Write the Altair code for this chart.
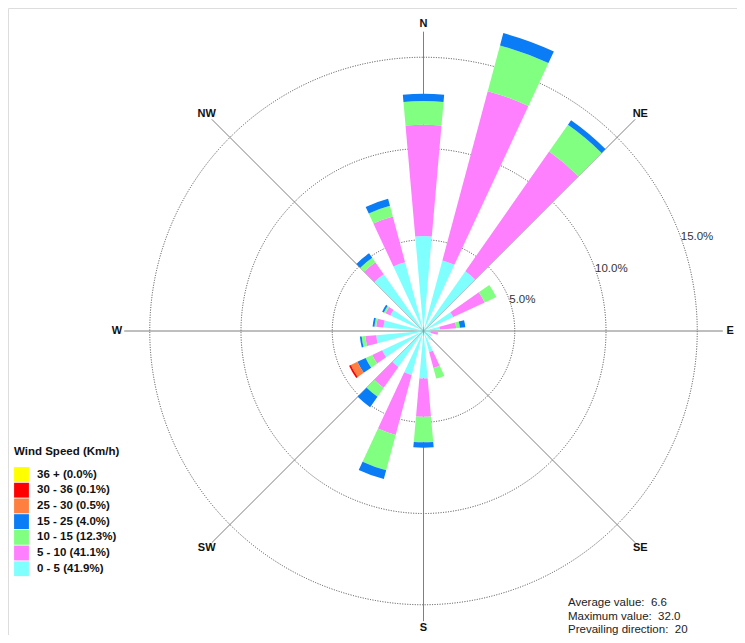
import math
import altair as alt
import pandas as pd

# ---------------- data ----------------
directions = list(range(0, 360, 20))
bands = ["0 - 5 (41.9%)", "5 - 10 (41.1%)", "10 - 15 (12.3%)", "15 - 25 (4.0%)",
         "25 - 30 (0.5%)", "30 - 36 (0.1%)", "36 + (0.0%)"]
band_colors = ["#80FFFF", "#FF80FF", "#80FF80", "#0A7CF5", "#FF7F40", "#FF0000", "#FFFF00"]

#            0    20   40   60   80  100  120  140  160  180  200  220  240  260  280  300  320  340
v_0_5   = [5.2, 4.0, 4.0, 1.8, 0.9, 0.4, 0.5, 0.6, 1.2, 2.6, 2.5, 2.4, 2.5, 2.6, 2.2, 2.0, 3.8, 3.9]
v_5_10  = [6.1, 9.6, 8.0, 1.9, 0.9, 0.4, 0.0, 0.0, 0.9, 2.1, 3.4, 1.4, 0.6, 0.6, 0.4, 0.3, 0.8, 2.6]
v_10_15 = [1.3, 2.6, 1.8, 0.7, 0.2, 0.0, 0.0, 0.0, 0.6, 1.4, 2.0, 0.6, 0.4, 0.2, 0.1, 0.1, 0.3, 0.6]
v_15_25 = [0.4, 0.7, 0.3, 0.0, 0.3, 0.0, 0.0, 0.0, 0.0, 0.3, 0.5, 0.7, 0.5, 0.1, 0.1, 0.1, 0.3, 0.4]
v_25_30 = [0.0, 0.0, 0.0, 0.0, 0.0, 0.0, 0.0, 0.0, 0.0, 0.0, 0.0, 0.0, 0.4, 0.0, 0.0, 0.0, 0.0, 0.0]
v_30_36 = [0.0, 0.0, 0.0, 0.0, 0.0, 0.0, 0.0, 0.0, 0.0, 0.0, 0.0, 0.0, 0.1, 0.0, 0.0, 0.0, 0.0, 0.0]
v_36p   = [0.0] * 18
series = [v_0_5, v_5_10, v_10_15, v_15_25, v_25_30, v_30_36, v_36p]

ring_values = [5, 10, 15]
ring_labels = ["5.0%", "10.0%", "15.0%"]
compass_names = ["N", "NE", "E", "SE", "S", "SW", "W", "NW"]
compass_angles = [0, 45, 90, 135, 180, 225, 270, 315]
compass_label_r = [16.8, 16.8, 16.8, 16.8, 16.25, 16.8, 16.8, 16.8]
compass_spoke_r = [16.4, 16.4, 16.4, 16.4, 15.9, 16.4, 16.4, 16.4]
NB = "\u00a0"
stats_lines = ["Average value:" + NB + " 6.6",
               "Maximum value:" + NB + " 32.0",
               "Prevailing direction:" + NB + " 20"]

# ---------------- tables ----------------
rows = []
for i, d in enumerate(directions):
    cum = 0.0
    for b, vals in zip(bands, series):
        v = vals[i]
        if v > 0:
            rows.append(dict(band=b, t0=d - 5, t1=d + 5, inner=cum, outer=cum + v, cx=0, cy=0))
            cum += v
bars = pd.DataFrame(rows)

rings = pd.DataFrame(dict(r=ring_values, t0=0, t1=360, cx=0, cy=0))

spokes = pd.DataFrame(dict(
    x=[0.0] * 8, y=[0.0] * 8,
    x2=[r * math.sin(math.radians(a)) for a, r in zip(compass_angles, compass_spoke_r)],
    y2=[r * math.cos(math.radians(a)) for a, r in zip(compass_angles, compass_spoke_r)],
))
compass = pd.DataFrame(dict(
    name=compass_names,
    x=[r * math.sin(math.radians(a)) for a, r in zip(compass_angles, compass_label_r)],
    y=[r * math.cos(math.radians(a)) for a, r in zip(compass_angles, compass_label_r)],
))
RL_ANGLE = 70
ringtext = pd.DataFrame(dict(
    label=ring_labels,
    x=[r * math.sin(math.radians(RL_ANGLE)) for r in ring_values],
    y=[r * math.cos(math.radians(RL_ANGLE)) for r in ring_values],
))
stats = pd.DataFrame(dict(line=stats_lines, idx=[0, 1, 2]))

# ---------------- scales ----------------
W, H = 729, 627
CX, CY = 415.5, 323.0
K = 18.25  # px per percent
xs = alt.Scale(domain=[-CX / K, (W - CX) / K], range=[0, W], nice=False, zero=False)
ys = alt.Scale(domain=[-(H - CY) / K, CY / K], range=[H, 0], nice=False, zero=False)
rs = alt.Scale(type="linear", domain=[0, 15], range=[0, 15 * K], zero=True, nice=False)
ts = alt.Scale(domain=[0, 360], range=[0, 2 * math.pi], nice=False, zero=False)

FONT = "Liberation Sans"

color = alt.Color(
    "band:N",
    scale=alt.Scale(domain=bands[::-1], range=band_colors[::-1]),
    legend=alt.Legend(
        title="Wind Speed (Km/h)", orient="none", legendX=6, legendY=438,
        symbolType="square", symbolSize=220, symbolStrokeWidth=0, symbolOpacity=1,
        titleFont=FONT, titleFontSize=11.5, titleFontWeight="bold", titleColor="#111",
        labelFont=FONT, labelFontSize=11.5, labelFontWeight="bold", labelColor="#111",
        rowPadding=0.7, titlePadding=9.5, labelOffset=8, padding=0, labelLimit=300,
    ),
)

bar_layer = alt.Chart(bars).mark_arc(stroke=None).encode(
    x=alt.X("cx:Q", scale=xs, axis=None),
    y=alt.Y("cy:Q", scale=ys, axis=None),
    theta=alt.Theta("t0:Q", scale=ts),
    theta2="t1:Q",
    radius=alt.Radius("outer:Q", scale=rs),
    radius2="inner:Q",
    color=color,
)

ring_layer = alt.Chart(rings).mark_arc(
    fillOpacity=0, stroke="#444", strokeWidth=1, strokeDash=[1, 1.5]
).encode(
    x=alt.X("cx:Q", scale=xs, axis=None),
    y=alt.Y("cy:Q", scale=ys, axis=None),
    theta=alt.Theta("t0:Q", scale=ts),
    theta2="t1:Q",
    radius=alt.Radius("r:Q", scale=rs),
)

spoke_layer = alt.Chart(spokes).mark_rule(color="#707070", strokeWidth=0.9).encode(
    x=alt.X("x:Q", scale=xs, axis=None),
    y=alt.Y("y:Q", scale=ys, axis=None),
    x2="x2:Q",
    y2="y2:Q",
)

compass_layer = alt.Chart(compass).mark_text(
    font=FONT, fontSize=11, fontWeight="bold", color="#111", align="center", baseline="middle"
).encode(
    x=alt.X("x:Q", scale=xs, axis=None),
    y=alt.Y("y:Q", scale=ys, axis=None),
    text="name:N",
)

ringtext_layer = alt.Chart(ringtext).mark_text(
    font=FONT, fontSize=11.5, color="#333", align="left", baseline="middle", dx=0
).encode(
    x=alt.X("x:Q", scale=xs, axis=None),
    y=alt.Y("y:Q", scale=ys, axis=None),
    text="label:N",
)

stats_layer = alt.Chart(stats).mark_text(
    font=FONT, fontSize=11.5, color="#222", align="left", baseline="middle"
).encode(
    x=alt.value(560),
    y=alt.Y("idx:Q", scale=alt.Scale(domain=[0, 2], range=[595, 622]), axis=None),
    text="line:N",
)

chart = alt.layer(
    ring_layer, spoke_layer, bar_layer, compass_layer, ringtext_layer, stats_layer
).resolve_scale(y="independent").properties(
    width=W, height=H, padding=0, autosize=alt.AutoSizeParams(type="none")
).configure_view(stroke=None).configure(background="white")

chart.save("out.html", embed_options={"renderer": "svg", "actions": False})
